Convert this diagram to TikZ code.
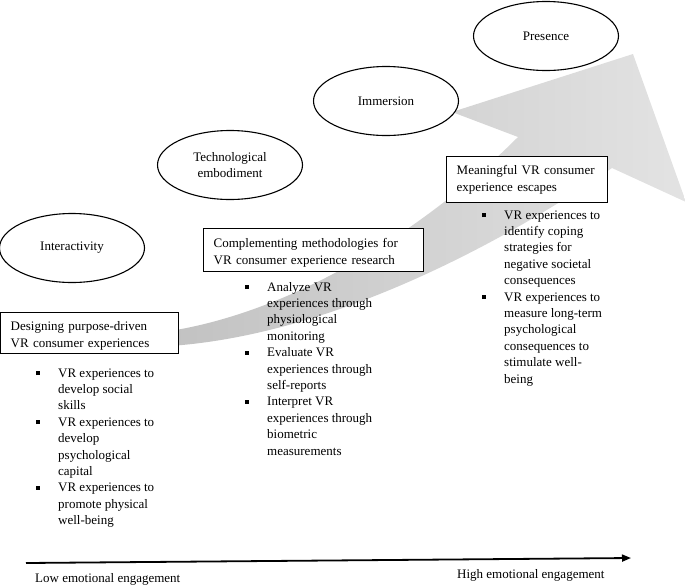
\documentclass[tikz,border=0pt]{standalone}
\usepackage{fontspec}
\setmainfont{Liberation Serif}
\usetikzlibrary{shapes.geometric,arrows.meta}
\newcommand{\sqb}{\makebox[22pt][l]{\raisebox{2pt}{\rule{4pt}{4pt}}}}
\begin{document}
\begin{tikzpicture}[x=1pt,y=-1pt,
  every node/.style={font=\fontsize{13}{16.4}\selectfont},
  oval/.style={ellipse, draw, line width=1.1pt, fill=white, minimum width=145pt, minimum height=69pt, align=center, inner sep=0pt},
  rbox/.style={draw, line width=1.4pt, fill=white, anchor=north west, align=left, inner xsep=10pt, inner ysep=0pt},
  blist/.style={anchor=base west, inner sep=0pt},
  axlabel/.style={anchor=base west, inner sep=0pt},
  bigarrow/.style={left color=black!24, right color=black!11},
  axis/.style={line width=1.8pt, -{Triangle[length=9pt,width=7pt]}}]
\useasboundingbox (0,0) rectangle (685,587);

% big gray arrow
\shade[bigarrow] (170,331) .. controls (300,310) and (430,225) .. (518,137)
  -- (452,112) -- (633,54) -- (686,202) -- (612,168)
  .. controls (525,228) and (345,334) .. (170,346) -- cycle;

% ellipses
\node[oval] (inter) at (72,248) {Interactivity};
\node[oval] (tech) at (230,165) {Technological\\embodiment};
\node[oval] (imm) at (386,101) {Immersion};
\node[oval] (pres) at (546,36) {Presence};

% boxes
\node[rbox, text width=158pt, text height=18pt, text depth=23pt] (design) at (0,312)
  {Designing purpose-driven\\VR consumer experiences};
\node[rbox, text width=200pt, text height=19pt, text depth=24pt] (compl) at (203,228)
  {Complementing methodologies for\\VR consumer experience research};
\node[rbox, text width=141pt, text height=18pt, text depth=28pt] (mean) at (446,156)
  {Meaningful VR consumer\\experience escapes};

% bullet lists
\node[blist] (designlist) at (36,377) {\begin{tabular}[t]{@{}l@{}l@{}}
\sqb & VR experiences to\\
 & develop social\\
 & skills\\
\sqb & VR experiences to\\
 & develop\\
 & psychological\\
 & capital\\
\sqb & VR experiences to\\
 & promote physical\\
 & well-being
\end{tabular}};
\node[blist] (compllist) at (245,291) {\begin{tabular}[t]{@{}l@{}l@{}}
\sqb & Analyze VR\\
 & experiences through\\
 & physiological\\
 & monitoring\\
\sqb & Evaluate VR\\
 & experiences through\\
 & self-reports\\
\sqb & Interpret VR\\
 & experiences through\\
 & biometric\\
 & measurements
\end{tabular}};
\node[blist] (meanlist) at (482,219) {\begin{tabular}[t]{@{}l@{}l@{}}
\sqb & VR experiences to\\
 & identify coping\\
 & strategies for\\
 & negative societal\\
 & consequences\\
\sqb & VR experiences to\\
 & measure long-term\\
 & psychological\\
 & consequences to\\
 & stimulate well-\\
 & being
\end{tabular}};

% axis
\coordinate (axl) at (26,563);
\coordinate (axr) at (631,558);
\draw[axis] (axl) -- (axr);
\node[axlabel] (low) at (35,582) {Low emotional engagement};
\node[axlabel] (high) at (457,578) {High emotional engagement};
\end{tikzpicture}
\end{document}
